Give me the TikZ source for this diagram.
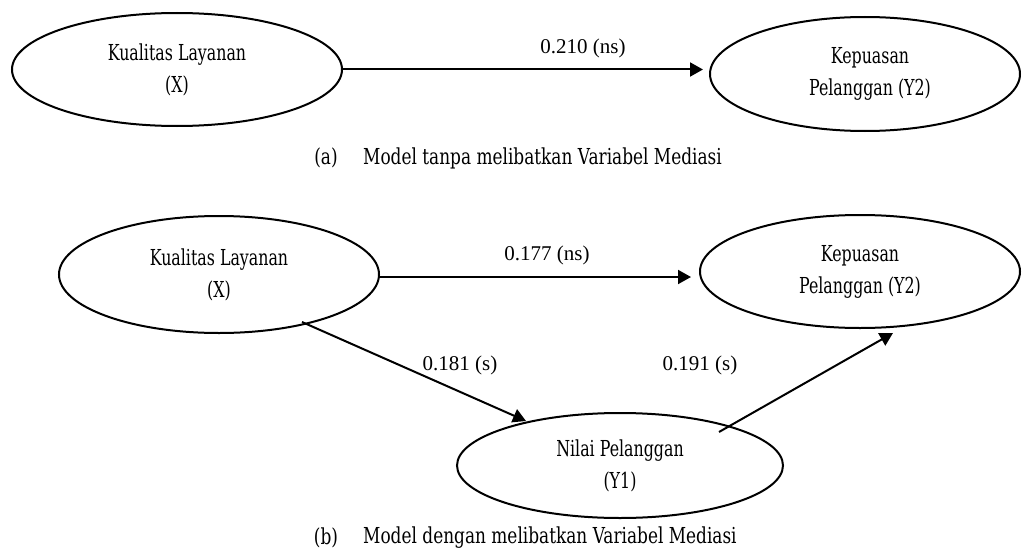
\documentclass[tikz,border=0pt]{standalone}
\usepackage{fontspec}
\setmainfont{Liberation Serif}
\newfontfamily\slabfont[FakeStretch=0.72]{DejaVu Serif}
\newfontfamily\captfont[FakeStretch=0.77]{DejaVu Serif}
\usetikzlibrary{arrows.meta,shapes.geometric,calc}
\tikzset{
  var/.style={draw,ellipse,line width=2pt,inner sep=0pt,align=center,
    font=\slabfont\fontsize{22}{32}\selectfont},
  arr/.style={line width=2pt,-{Triangle[length=13pt,width=14pt]}},
  coef/.style={font=\fontsize{21}{24}\selectfont,inner sep=0pt},
  capt/.style={font=\captfont\fontsize{22}{24}\selectfont,inner sep=0pt}
}
\begin{document}
\begin{tikzpicture}[x=1pt,y=-1pt]
\path[use as bounding box,fill=white] (0,0) rectangle (1025,551);
% (a)
\node[var,minimum width=330pt,minimum height=113pt] (xa) at (177,69.5) {Kualitas Layanan\\(X)};
\node[var,minimum width=310pt,minimum height=114pt] (ya) at (865,74) {\hspace*{10pt}Kepuasan\\\hspace*{10pt}Pelanggan (Y2)};
\draw[arr] (xa.east) -- ([xshift=-6pt]xa.east -| ya.west);
\node[coef] (la) at (583,48) {0.210 (ns)};
\node[capt] (ca1) at (326,158) {(a)};
\node[capt,anchor=west] (ca2) at (363,158) {Model tanpa melibatkan Variabel Mediasi};
% (b)
\node[var,minimum width=320pt,minimum height=117pt] (xb) at (219,274.5) {Kualitas Layanan\\(X)};
\node[var,minimum width=320pt,minimum height=113pt] (yb) at (860,271.5) {Kepuasan\\Pelanggan (Y2)};
\node[var,minimum width=326pt,minimum height=105pt] (m) at (620,465.5) {Nilai Pelanggan\\(Y1)};
\draw[arr] (xb.east) ++(0,2.5) -- ([xshift=-8pt,yshift=-2.5pt]xb.east -| yb.west);
\draw[arr] ([shift={(83,47.5)}]xb.center) -- ([shift={(-94,-44.5)}]m.center);
\draw[arr] ([shift={(99,-33.5)}]m.center) -- ([shift={(33,61.5)}]yb.center);
\node[coef] (lb1) at (547,255) {0.177 (ns)};
\node[coef] (lb2) at (460,365) {0.181 (s)};
\node[coef] (lb3) at (700,365) {0.191 (s)};
\node[capt] (cb1) at (326,538) {(b)};
\node[capt,anchor=west] (cb2) at (363,538) {Model dengan melibatkan Variabel Mediasi};
\end{tikzpicture}
\end{document}
